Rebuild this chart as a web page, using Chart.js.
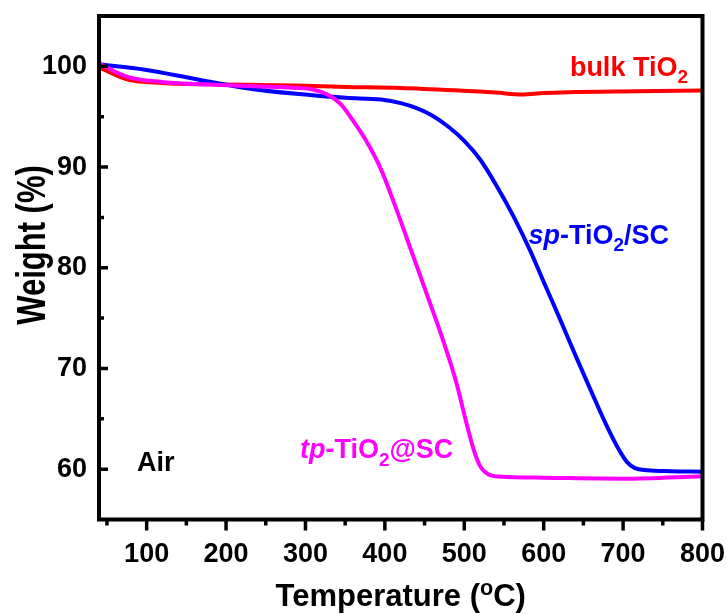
<!DOCTYPE html>
<html>
<head>
<meta charset="utf-8">
<script src="https://cdn.jsdelivr.net/npm/chart.js@4.4.0/dist/chart.umd.min.js"></script>
<style>
  html, body { margin: 0; padding: 0; background: #fff; }
  #wrap { width: 727px; height: 614px; }
</style>
</head>
<body>
<div id="wrap"><canvas id="tga" width="727" height="614"></canvas></div>
<script>
// temperatures (oC) and weights (%)
const tempBulk = [40, 76, 119, 203, 288, 351, 420, 505, 540, 572, 600, 631, 715, 800];
const weightBulk = [99.9, 98.68, 98.35, 98.19, 98.09, 97.96, 97.86, 97.55, 97.4, 97.2, 97.35, 97.43, 97.52, 97.6];

const tempSp = [40, 98, 161, 224, 288, 351, 395, 420, 440, 460, 480, 500, 520, 541, 562, 583, 600, 620, 640, 660, 680, 695, 705, 715, 730, 760, 800];
const weightSp = [100.2, 99.67, 98.75, 97.86, 97.27, 96.87, 96.7, 96.35, 95.85, 95.1, 94.0, 92.6, 90.75, 88.1, 85.1, 81.7, 78.6, 75.0, 71.3, 67.7, 64.2, 61.9, 60.7, 60.1, 59.9, 59.8, 59.74];

const tempTp = [40, 76, 119, 203, 288, 309, 330, 345, 360, 375, 395, 415, 435, 455, 475, 490, 502, 512, 520, 530, 547, 600, 700, 800];
const weightTp = [100.3, 98.95, 98.45, 98.12, 97.86, 97.7, 97.1, 96.2, 94.6, 92.8, 89.8, 85.7, 81.3, 76.9, 72.4, 68.6, 64.8, 61.9, 60.3, 59.5, 59.25, 59.15, 59.05, 59.3];

const xTicks = [100, 200, 300, 400, 500, 600, 700, 800];
const xMinorTicks = [50, 150, 250, 350, 450, 550, 650, 750];
const yTicks = [60, 70, 80, 90, 100];
const yMinorTicks = [65, 75, 85, 95];

const FONT = '"Liberation Sans", Arial, sans-serif';

const toPoints = (xs, ys) => xs.map((x, i) => ({ x: x, y: ys[i] }));

// curve labels, placed in data coordinates (left edge, baseline)
const labels = [
  { at: [633, 99.08], color: '#ff0000', parts: [{ t: 'bulk TiO' }, { t: '2', sub: true }] },
  { at: [581, 82.35], color: '#0000ff', parts: [{ t: 'sp', it: true }, { t: '-TiO' }, { t: '2', sub: true }, { t: '/SC' }] },
  { at: [293, 61.06], color: '#ff00ff', parts: [{ t: 'tp', it: true }, { t: '-TiO' }, { t: '2', sub: true }, { t: '@SC' }] },
  { at: [88, 59.78], color: '#000000', parts: [{ t: 'Air' }] }
];

function drawRich(ctx, x, y, parts, size, color) {
  let cx = x;
  ctx.fillStyle = color;
  ctx.textBaseline = 'alphabetic';
  ctx.textAlign = 'left';
  parts.forEach(p => {
    const small = p.sub || p.sup;
    const s = small ? size * 0.7 : size;
    ctx.font = (p.it ? 'italic ' : '') + 'bold ' + s + 'px ' + FONT;
    const dy = p.sub ? size * 0.27 : (p.sup ? -size * 0.36 : 0);
    ctx.fillText(p.t, cx, y + dy);
    cx += ctx.measureText(p.t).width;
  });
  return cx - x;
}

function richWidth(ctx, parts, size) {
  let w = 0;
  parts.forEach(p => {
    const s = (p.sub || p.sup) ? size * 0.7 : size;
    ctx.font = (p.it ? 'italic ' : '') + 'bold ' + s + 'px ' + FONT;
    w += ctx.measureText(p.t).width;
  });
  return w;
}

const framePlugin = {
  id: 'frame',
  afterDraw(chart) {
    const ctx = chart.ctx;
    const a = chart.chartArea;
    const xs = chart.scales.x;
    const ys = chart.scales.y;
    ctx.save();
    ctx.strokeStyle = '#000';
    ctx.lineWidth = 4;
    ctx.strokeRect(a.left, a.top, a.right - a.left, a.bottom - a.top);

    ctx.lineWidth = 3.5;
    ctx.beginPath();
    xTicks.forEach(v => { const p = xs.getPixelForValue(v); ctx.moveTo(p, a.bottom); ctx.lineTo(p, a.bottom + 11); });
    xMinorTicks.forEach(v => { const p = xs.getPixelForValue(v); ctx.moveTo(p, a.bottom); ctx.lineTo(p, a.bottom + 6); });
    yTicks.forEach(v => { const p = ys.getPixelForValue(v); ctx.moveTo(a.left, p); ctx.lineTo(a.left + 9, p); });
    yMinorTicks.forEach(v => { const p = ys.getPixelForValue(v); ctx.moveTo(a.left, p); ctx.lineTo(a.left + 5, p); });
    ctx.stroke();

    labels.forEach(l => {
      drawRich(ctx, xs.getPixelForValue(l.at[0]), ys.getPixelForValue(l.at[1]), l.parts, 27, l.color);
    });

    // x title with superscript o
    const xt = [{ t: 'Temperature (' }, { t: 'o', sup: true }, { t: 'C)' }];
    const w = richWidth(ctx, xt, 31);
    drawRich(ctx, (a.left + a.right) / 2 - w / 2, 606, xt, 31, '#000');

    // y title, rotated
    ctx.save();
    ctx.translate(45, 245);
    ctx.rotate(-Math.PI / 2);
    ctx.scale(1, 1.3);
    ctx.font = 'bold 31px ' + FONT;
    ctx.fillStyle = '#000';
    ctx.textAlign = 'center';
    ctx.textBaseline = 'alphabetic';
    ctx.fillText('Weight (%)', 0, 0);
    ctx.restore();

    ctx.restore();
  }
};

new Chart(document.getElementById('tga'), {
  type: 'line',
  data: {
    datasets: [
      { label: 'tp-TiO2@SC', data: toPoints(tempTp, weightTp), borderColor: '#ff00ff' },
      { label: 'sp-TiO2/SC', data: toPoints(tempSp, weightSp), borderColor: '#0000ff' },
      { label: 'bulk TiO2', data: toPoints(tempBulk, weightBulk), borderColor: '#ff0000' }
    ].map(d => Object.assign(d, {
      borderWidth: 4,
      pointRadius: 0,
      fill: false,
      cubicInterpolationMode: 'monotone'
    }))
  },
  options: {
    responsive: false,
    devicePixelRatio: 1,
    animation: false,
    layout: { padding: { left: 0, top: 16, right: 24.5, bottom: 0 } },
    plugins: { legend: { display: false }, tooltip: { enabled: false } },
    scales: {
      x: {
        type: 'linear',
        min: 40,
        max: 800,
        afterBuildTicks: s => { s.ticks = xTicks.map(v => ({ value: v })); },
        afterFit: s => { s.height = 94.5; s.paddingLeft = 0; s.paddingRight = 0; },
        grid: { display: false, drawTicks: false },
        border: { display: false },
        ticks: { color: '#000', padding: 19, maxRotation: 0, font: { family: FONT, size: 27, weight: 'bold' } }
      },
      y: {
        min: 55,
        max: 105,
        afterBuildTicks: s => { s.ticks = yTicks.map(v => ({ value: v })); },
        afterFit: s => { s.width = 99; s.paddingTop = 0; s.paddingBottom = 0; },
        grid: { display: false, drawTicks: false },
        border: { display: false },
        ticks: { color: '#000', padding: 12, font: { family: FONT, size: 27, weight: 'bold' } }
      }
    }
  },
  plugins: [framePlugin]
});
</script>
</body>
</html>
